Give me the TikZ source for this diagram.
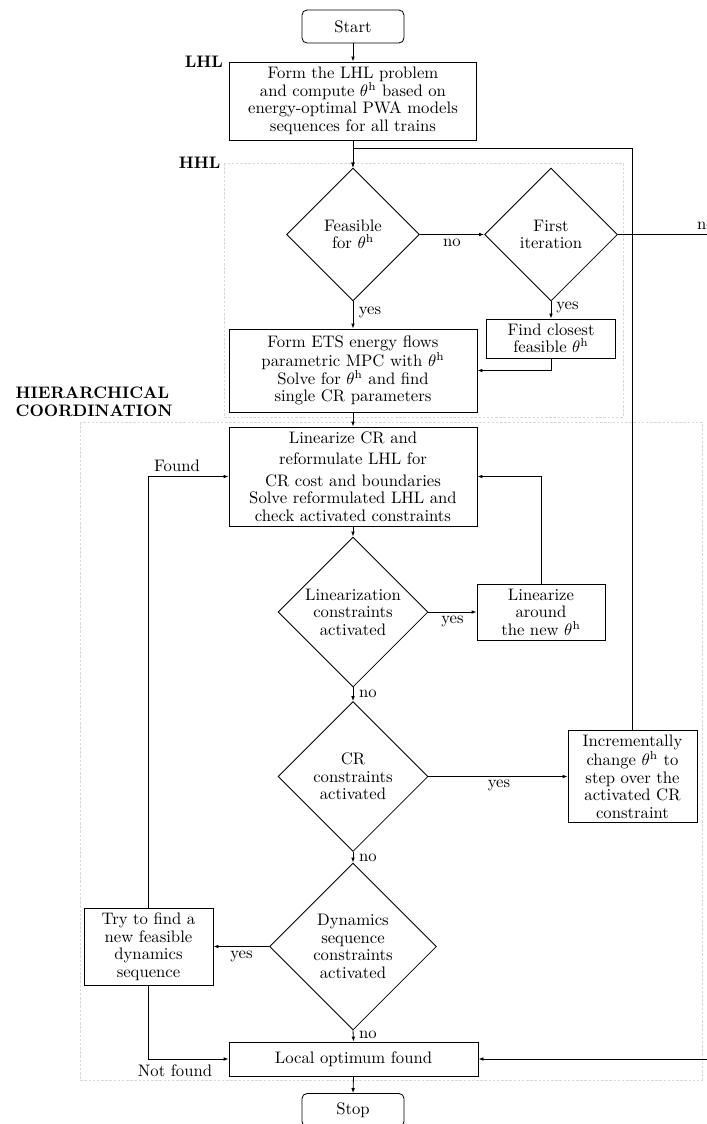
\documentclass[tikz,border=0pt]{standalone}
\usetikzlibrary{shapes.geometric,arrows.meta}
\begin{document}
\begin{tikzpicture}[x=0.6pt,y=-0.6pt,
  every node/.style={font=\fontsize{10}{10.5}\selectfont},
  box/.style={draw,rectangle,align=center,inner sep=1pt,line width=0.5pt},
  term/.style={box,rounded corners=3pt},
  dia/.style={draw,diamond,aspect=1,align=center,inner sep=0pt,line width=0.5pt},
  arr/.style={-{Latex[length=3pt,width=2.2pt]},line width=0.5pt},
  grp/.style={draw=gray!30,dash pattern=on 1.5pt off 1pt,line width=0.4pt},
  lbl/.style={inner sep=0pt},
  ttl/.style={font=\fontsize{10}{10.5}\selectfont\bfseries,inner sep=2pt}]
\useasboundingbox (0,0) rectangle (707,1124);
\clip (0,0) rectangle (707,1124);

% groups
\draw[grp] (224,163) rectangle (623,417);
\draw[grp] (80,422) rectangle (702,1080);

% nodes
\node[term,minimum width=61.2pt,minimum height=19.8pt] (start) at (353,26.5) {Start};
\node[box,minimum width=148.2pt,minimum height=46.8pt] (lhl) at (353,101)
  {Form the LHL problem\\ and compute $\theta^{\mathrm{h}}$ based on\\ energy-optimal PWA models\\ sequences for all trains};
\node[ttl,anchor=east,xshift=-1.5pt] (lhllbl) at (lhl.north west) {LHL};
\node[ttl,anchor=east] (hhllbl) at (224,163) {HHL};

\node[dia,minimum width=79.8pt,minimum height=79.8pt] (feas) at (353,234.5) {Feasible\\ for $\theta^{\mathrm{h}}$};
\node[dia,minimum width=79.8pt,minimum height=79.8pt] (first) at (551,234.5) {First\\ iteration};
\node[box,minimum width=77.4pt,minimum height=23.4pt] (find) at (551,338.5) {Find closest\\ feasible $\theta^{\mathrm{h}}$};
\node[box,minimum width=148.8pt,minimum height=49.8pt] (formets) at (353,370.5)
  {Form ETS energy flows\\ parametric MPC with $\theta^{\mathrm{h}}$\\ Solve for $\theta^{\mathrm{h}}$ and find\\ single CR parameters};

\node[ttl,anchor=west,align=left] (hclbl) at (12,402) {HIERARCHICAL\\ COORDINATION};

\node[box,minimum width=148.8pt,minimum height=59.4pt] (lincr) at (353,476.5)
  {Linearize CR and\\[2.5pt] reformulate LHL for\\[2.5pt] CR cost and boundaries\\ Solve reformulated LHL and\\ check activated constraints};
\node[dia,minimum width=90pt,minimum height=90pt] (lin) at (353,612) {Linearization\\ constraints\\ activated};
\node[box,minimum width=76.8pt,minimum height=33.6pt] (linar) at (541,612) {Linearize\\ around\\ the new $\theta^{\mathrm{h}}$};
\node[dia,minimum width=90pt,minimum height=90pt] (cr) at (353,776.5) {CR\\ constraints\\ activated};
\node[box,minimum width=77.4pt,minimum height=55.2pt] (incr) at (632.5,776.5)
  {Incrementally\\ change $\theta^{\mathrm{h}}$ to\\ step over the\\ activated CR\\ constraint};
\node[dia,minimum width=100.2pt,minimum height=100.2pt] (dyn) at (353,946.5) {Dynamics\\ sequence\\ constraints\\ activated};
\node[box,minimum width=77.4pt,minimum height=46.2pt] (try) at (148.5,946.5)
  {Try to find a\\ new feasible\\ dynamics\\ sequence};
\node[box,minimum width=149.4pt,minimum height=20.4pt] (local) at (353.5,1059) {Local optimum found};
\node[term,minimum width=61.2pt,minimum height=19.8pt] (stop) at (353,1110) {Stop};

% coordinates
\coordinate (j) at (353,148);
\coordinate (r1) at (790,234.5);

% connectors
\draw[arr] (start) -- (lhl);
\draw[arr] (lhl.south) -- (feas.north);
\draw[arr] (incr.north) |- (j) -- (feas.north);
\draw[arr] (feas.east) -- (first.west);
\draw[arr] (feas.south) -- (formets.north);
\draw[arr] (first.south) -- (find.north);
\draw[arr] (find.south) |- (formets.east);
\draw[arr] (first.east) -- (r1) |- (local.east);
\draw[arr] (formets.south) -- (lincr.north);
\draw[arr] (lincr.south) -- (lin.north);
\draw[arr] (lin.east) -- (linar.west);
\draw[arr] (linar.north) |- (lincr.east);
\draw[arr] (lin.south) -- (cr.north);
\draw[arr] (cr.east) -- (incr.west);
\draw[arr] (cr.south) -- (dyn.north);
\draw[arr] (dyn.west) -- (try.east);
\draw[arr] (try.north) |- (lincr.west);
\draw[arr] (try.south) |- (local.west);
\draw[arr] (dyn.south) -- (local.north);
\draw[arr] (local.south) -- (stop.north);

% labels
\node[lbl] (l1) at (452,242.5) {no};
\node[lbl] (l2) at (706,225.5) {no};
\node[lbl] (l3) at (370,312.5) {yes};
\node[lbl] (l4) at (567.5,307.5) {yes};
\node[lbl] (l5) at (177,466) {Found};
\node[lbl] (l6) at (452.5,621.5) {yes};
\node[lbl] (l7) at (368,694) {no};
\node[lbl] (l8) at (499,785) {yes};
\node[lbl] (l9) at (368,857.5) {no};
\node[lbl] (l10) at (241.5,956) {yes};
\node[lbl] (l11) at (368,1035) {no};
\node[lbl] (l12) at (175,1071) {Not found};
\end{tikzpicture}
\end{document}
